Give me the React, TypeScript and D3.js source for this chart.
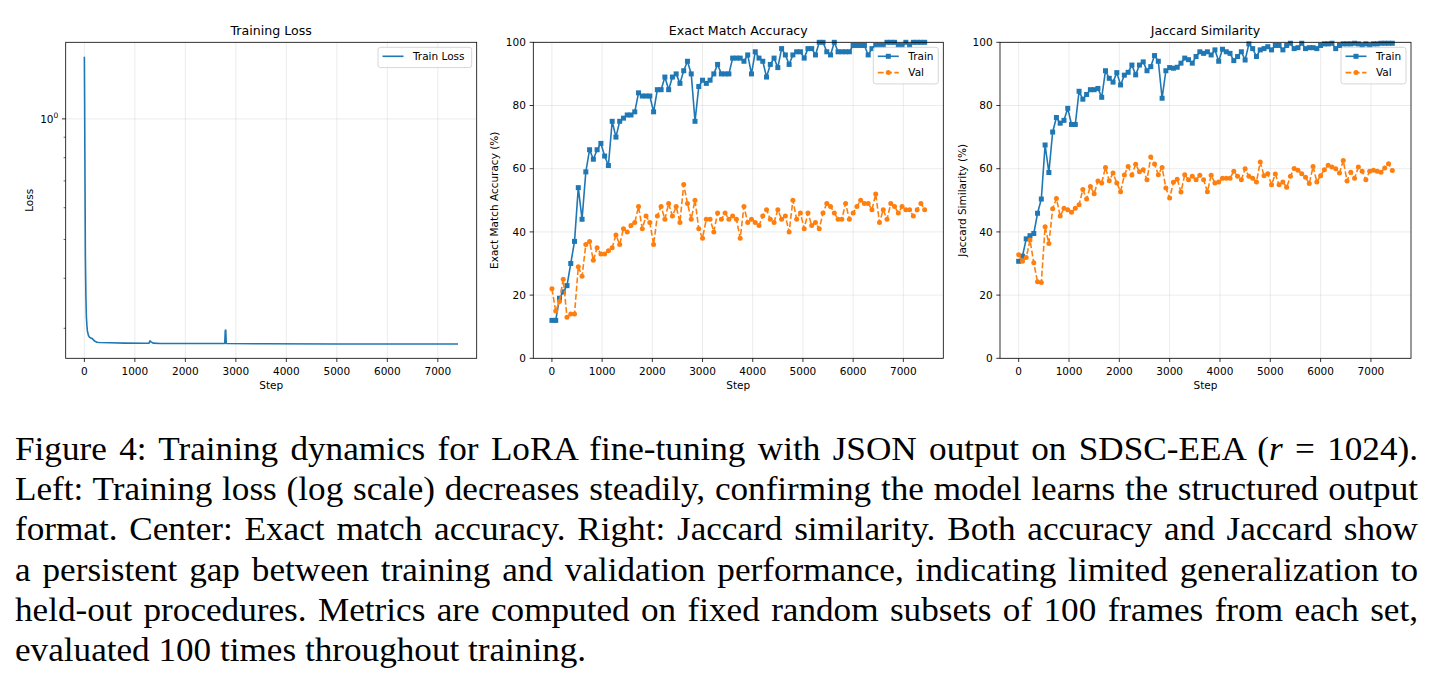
import { useLayoutEffect, useRef } from 'react';
import * as d3 from 'd3';

// evaluation steps shared by the accuracy / jaccard panels
const evalSteps = d3.range(0, 7500, 75);

const lossSteps = [0, 5, 10, 15, 20, 30, 40, 50, 60, 80, 100, 150, 200, 250, 300, 500, 800, 1200, 1280, 1300, 1320, 1360, 1500, 2000, 2780, 2790, 2800, 2810, 3500, 5000, 6500, 7400];
const lossValues = [1.43, 1.1, 0.8, 0.6, 0.45, 0.36, 0.32, 0.305, 0.295, 0.288, 0.285, 0.283, 0.279, 0.277, 0.2765, 0.276, 0.2755, 0.2752, 0.2755, 0.279, 0.2775, 0.2755, 0.275, 0.275, 0.2748, 0.296, 0.297, 0.2748, 0.2745, 0.2742, 0.2742, 0.2742];

const exactTrain = [
  12, 12, 19, 21, 23, 30, 37, 54, 44, 59, 66, 63, 66, 68, 64, 61, 75, 70, 75, 76,
  77, 77, 78, 84, 83, 83, 83, 78, 85, 85, 89, 85, 89, 90, 87, 91, 94, 90, 75, 86,
  88, 87, 88, 90, 93, 90, 90, 90, 95, 95, 95, 94, 96, 90, 97, 95, 94, 89, 93, 95,
  92, 98, 96, 93, 96, 97, 97, 95, 98, 98, 96, 100, 100, 97, 96, 100, 97, 97, 97, 97,
  99, 99, 99, 99, 96, 98, 99, 99, 99, 100, 100, 100, 99, 99, 100, 99, 100, 100, 100, 100,
];
const exactVal = [
  22, 15, 18, 25, 13, 14, 14, 29, 26, 36, 37, 31, 35, 33, 33, 34, 35, 39, 36, 41,
  40, 42, 43, 48, 41, 45, 43, 36, 45, 48, 44, 49, 45, 48, 43, 55, 49, 44, 50, 41,
  38, 44, 44, 40, 46, 44, 46, 44, 45, 44, 38, 48, 43, 44, 43, 42, 45, 47, 44, 43,
  47, 44, 45, 40, 50, 44, 46, 41, 46, 42, 43, 41, 46, 49, 48, 46, 44, 44, 49, 44,
  46, 48, 50, 49, 49, 47, 52, 43, 47, 44, 49, 48, 46, 48, 47, 47, 45, 47, 49, 47,
];
const jaccardTrain = [
  30.7, 32.3, 37.8, 38.8, 39.5, 45.9, 50.4, 67.5, 58.8, 71.6, 76.2, 74.4, 75.3, 79.1, 74, 74, 84.5, 82, 83.5, 85,
  85, 85.4, 82.6, 91, 88.6, 87.4, 90.4, 86.5, 89.6, 90.5, 92.8, 89.7, 92.8, 93.8, 91, 92.3, 95.8, 94, 82.3, 91,
  92, 91.8, 92.1, 93.4, 95, 94.5, 93.4, 95.5, 97, 96.5, 97, 96, 97.6, 94, 97.8, 97, 96.5, 94.2, 95.5, 97,
  94.4, 99.5, 98, 95.5, 97.6, 98, 98.6, 97.6, 99, 99, 97.6, 99, 99.7, 98, 98.3, 99.7, 98, 98.3, 98.3, 98,
  99, 99.5, 99.5, 99.7, 98, 99, 99.5, 99.5, 99.5, 99.7, 99.5, 99, 99.5, 99, 99.5, 99.5, 99.7, 99.7, 99.7, 99.7,
];
const jaccardVal = [
  32.8, 30.7, 31.9, 37.4, 30.2, 24.2, 24, 41.6, 36.3, 47.3, 50.6, 45, 47.5, 47, 46.2, 47.5, 48.6, 53.4, 50.4, 54.4,
  52.1, 56.1, 55.5, 60.4, 56.2, 58.6, 55.5, 52.7, 58, 60.7, 58, 61.4, 59, 59.7, 56.5, 63.7, 61.5, 58.1, 60.4, 53.9,
  50.7, 55.7, 56.7, 52.6, 58.1, 56.5, 57.6, 56.5, 57.9, 56.5, 52.7, 57.9, 55.5, 55.8, 57, 57, 57, 59.2, 57.6, 56.5,
  60, 57.6, 57, 55.8, 62.1, 57.8, 58.4, 54.9, 58.3, 54.9, 55.8, 54.1, 57.6, 60.1, 59.5, 58.4, 57.3, 55.3, 60.7, 55.8,
  57.8, 59.7, 61.1, 60.5, 60, 58.6, 62.6, 56.1, 58.9, 57, 60.5, 59.2, 56.5, 59.2, 59.5, 59.2, 58.9, 60.2, 61.6, 59.4,
];

const stepTicks = [0, 1000, 2000, 3000, 4000, 5000, 6000, 7000];
const pctTicks = [0, 20, 40, 60, 80, 100];
const lossMinorTicks = [0.3, 0.4, 0.5, 0.6, 0.7, 0.8, 0.9];

type Seg = { t: string; italic?: boolean };
const captionLines: Seg[][] = [
  [{ t: 'Figure 4: Training dynamics for LoRA fine-tuning with JSON output on SDSC-EEA (' }, { t: 'r', italic: true }, { t: ' = 1024).' }],
  [{ t: 'Left: Training loss (log scale) decreases steadily, confirming the model learns the structured output' }],
  [{ t: 'format. Center: Exact match accuracy. Right: Jaccard similarity. Both accuracy and Jaccard show' }],
  [{ t: 'a persistent gap between training and validation performance, indicating limited generalization to' }],
  [{ t: 'held-out procedures. Metrics are computed on fixed random subsets of 100 frames from each set,' }],
  [{ t: 'evaluated 100 times throughout training.' }],
];

const FONT = '"DejaVu Sans", sans-serif';
const BLUE = '#1f77b4';
const ORANGE = '#ff7f0e';
const FS = 10.5;
const TICK = 3.7;
const TOP = 42.3;
const BOTTOM = 358.3;

// x range with matplotlib-like 5% padding
const padded = (max: number): [number, number] => [-max * 0.05, max * 1.05];

type PanelProps = {
  left: number;
  right: number;
  title: string;
  yLabel: string;
  yLabelX: number;
  x: d3.ScaleLinear<number, number>;
  y: (v: number) => number;
  yTicks: { v: number; label: React.ReactNode }[];
  yMinor?: number[];
  children: React.ReactNode;
};

function Panel({ left, right, title, yLabel, yLabelX, x, y, yTicks, yMinor = [], children }: PanelProps) {
  const cx = (left + right) / 2;
  return (
    <g fontFamily={FONT} fontSize={FS}>
      {/* grid */}
      {stepTicks.map(t => (
        <line key={'gx' + t} x1={x(t)} x2={x(t)} y1={TOP} y2={BOTTOM} stroke="#b0b0b0" strokeOpacity={0.3} strokeWidth={0.8} />
      ))}
      {yTicks.map(t => (
        <line key={'gy' + t.v} x1={left} x2={right} y1={y(t.v)} y2={y(t.v)} stroke="#b0b0b0" strokeOpacity={0.3} strokeWidth={0.8} />
      ))}
      <defs>
        <clipPath id={'clip' + left}>
          <rect x={left} y={TOP - 4} width={right - left} height={BOTTOM - TOP + 4} />
        </clipPath>
      </defs>
      <g clipPath={`url(#clip${left})`}>{children}</g>
      {/* ticks */}
      {stepTicks.map(t => (
        <g key={'tx' + t}>
          <line x1={x(t)} x2={x(t)} y1={BOTTOM} y2={BOTTOM + TICK} stroke="#000" strokeWidth={0.8} />
          <text x={x(t)} y={BOTTOM + 16.3} textAnchor="middle">{t}</text>
        </g>
      ))}
      {yTicks.map(t => (
        <g key={'ty' + t.v}>
          <line x1={left - TICK} x2={left} y1={y(t.v)} y2={y(t.v)} stroke="#000" strokeWidth={0.8} />
          <text x={left - 7.4} y={y(t.v)} dy="0.36em" textAnchor="end">{t.label}</text>
        </g>
      ))}
      {yMinor.map(v => (
        <line key={'m' + v} x1={left - 2.1} x2={left} y1={y(v)} y2={y(v)} stroke="#000" strokeWidth={0.6} />
      ))}
      <rect x={left} y={TOP} width={right - left} height={BOTTOM - TOP} fill="none" stroke="#000" strokeWidth={0.8} />
      <text x={cx} y={34.5} textAnchor="middle" fontSize={12.6}>{title}</text>
      <text x={cx} y={388.5} textAnchor="middle">Step</text>
      <text transform={`translate(${yLabelX},${(TOP + BOTTOM) / 2}) rotate(-90)`} textAnchor="middle">{yLabel}</text>
    </g>
  );
}

function Legend({ right, width, rows }: { right: number; width: number; rows: { label: string; color: string; marker?: 'square' | 'circle'; dashed?: boolean }[] }) {
  const x0 = right - 5 - width;
  const y0 = TOP + 5;
  const h = 6 + rows.length * 16.3 - 2;
  return (
    <g fontFamily={FONT} fontSize={FS}>
      <rect x={x0} y={y0} width={width} height={h} rx={2.5} fill="#fff" fillOpacity={0.8} stroke="#cccccc" strokeWidth={0.8} />
      {rows.map((r, i) => {
        const cy = y0 + 9 + i * 16.3;
        const lx = x0 + 4.5;
        return (
          <g key={r.label}>
            <line x1={lx} x2={lx + 21} y1={cy} y2={cy} stroke={r.color} strokeWidth={1.6} strokeDasharray={r.dashed ? '5.8,2.5' : undefined} />
            {r.marker === 'square' && <rect x={lx + 10.5 - 2.5} y={cy - 2.5} width={5} height={5} fill={r.color} />}
            {r.marker === 'circle' && <circle cx={lx + 10.5} cy={cy} r={2.5} fill={r.color} />}
            <text x={lx + 30.5} y={cy + 3.8}>{r.label}</text>
          </g>
        );
      })}
    </g>
  );
}

function MetricPanel({ left, right, title, yLabel, yLabelX, train, val }: { left: number; right: number; title: string; yLabel: string; yLabelX: number; train: number[]; val: number[] }) {
  const x = d3.scaleLinear().domain(padded(d3.max(evalSteps)!)).range([left, right]);
  const y = d3.scaleLinear().domain([0, 100]).range([BOTTOM, TOP]);
  const line = d3.line<number>().x((_, i) => x(evalSteps[i])).y(d => y(d));
  return (
    <g>
      <Panel left={left} right={right} title={title} yLabel={yLabel} yLabelX={yLabelX} x={x} y={y}
        yTicks={pctTicks.map(v => ({ v, label: String(v) }))}>
        <path d={line(train)!} fill="none" stroke={BLUE} strokeWidth={1.6} strokeLinejoin="round" />
        {train.map((d, i) => (
          <rect key={'s' + i} x={x(evalSteps[i]) - 2.5} y={y(d) - 2.5} width={5} height={5} fill={BLUE} />
        ))}
        <path d={line(val)!} fill="none" stroke={ORANGE} strokeWidth={1.6} strokeDasharray="5.8,2.5" strokeLinejoin="round" />
        {val.map((d, i) => (
          <circle key={'c' + i} cx={x(evalSteps[i])} cy={y(d)} r={2.5} fill={ORANGE} />
        ))}
      </Panel>
      <Legend right={right} width={65} rows={[
        { label: 'Train', color: BLUE, marker: 'square' },
        { label: 'Val', color: ORANGE, marker: 'circle', dashed: true },
      ]} />
    </g>
  );
}

function LossPanel() {
  const left = 65.7, right = 476.7;
  const x = d3.scaleLinear().domain(padded(d3.max(lossSteps)!)).range([left, right]);
  const [lo, hi] = d3.extent(lossValues) as [number, number];
  const span = Math.log(hi / lo) * 0.05;
  const y = d3.scaleLog().domain([lo * Math.exp(-span), hi * Math.exp(span)]).range([BOTTOM, TOP]);
  const line = d3.line<number>().x((_, i) => x(lossSteps[i])).y(d => y(d));
  return (
    <g>
      <Panel left={left} right={right} title="Training Loss" yLabel="Loss" yLabelX={33.3} x={x} y={y}
        yTicks={[{ v: 1, label: <>10<tspan dy={-4.5} fontSize={7.5}>0</tspan></> }]} yMinor={lossMinorTicks}>
        <path d={line(lossValues)!} fill="none" stroke={BLUE} strokeWidth={1.6} strokeLinejoin="round" />
      </Panel>
      <Legend right={right} width={93.7} rows={[{ label: 'Train Loss', color: BLUE }]} />
    </g>
  );
}

const CAP_LEFT = 15;
const CAP_RIGHT = 1418;
const CAP_SCALE = 1.05;
const CAP_BASE = 460;
const CAP_LEAD = 40.2;

function Caption() {
  const refs = useRef<(SVGTextElement | null)[]>([]);
  useLayoutEffect(() => {
    // justify every line except the last by stretching the word gaps
    refs.current.forEach((el, i) => {
      if (!el || i === captionLines.length - 1) return;
      el.setAttribute('word-spacing', '0');
      const natural = el.getComputedTextLength();
      const gaps = captionLines[i].map(s => s.t).join('').split(' ').length - 1;
      el.setAttribute('word-spacing', String(((CAP_RIGHT - CAP_LEFT) / CAP_SCALE - natural) / gaps));
    });
  }, []);
  return (
    <g fontFamily='"Liberation Serif", serif' fontSize={33.5}>
      {captionLines.map((segs, i) => (
        <text key={i} ref={el => { refs.current[i] = el; }}
          transform={`translate(${CAP_LEFT},${CAP_BASE + i * CAP_LEAD}) scale(${CAP_SCALE},1)`}>
          {segs.map((s, j) => (
            <tspan key={j} fontStyle={s.italic ? 'italic' : undefined}>{s.t}</tspan>
          ))}
        </text>
      ))}
    </g>
  );
}

export default function App() {
  return (
    <svg width={1434} height={684} style={{ position: 'absolute', left: 0, top: 0, background: '#fff' }}>
      <rect width={1434} height={684} fill="#fff" />
      <LossPanel />
      <MetricPanel left={533.3} right={943.3} title="Exact Match Accuracy" yLabel="Exact Match Accuracy (%)" yLabelX={498}
        train={exactTrain} val={exactVal} />
      <MetricPanel left={1000} right={1411} title="Jaccard Similarity" yLabel="Jaccard Similarity (%)" yLabelX={965.5}
        train={jaccardTrain} val={jaccardVal} />
      <Caption />
    </svg>
  );
}
